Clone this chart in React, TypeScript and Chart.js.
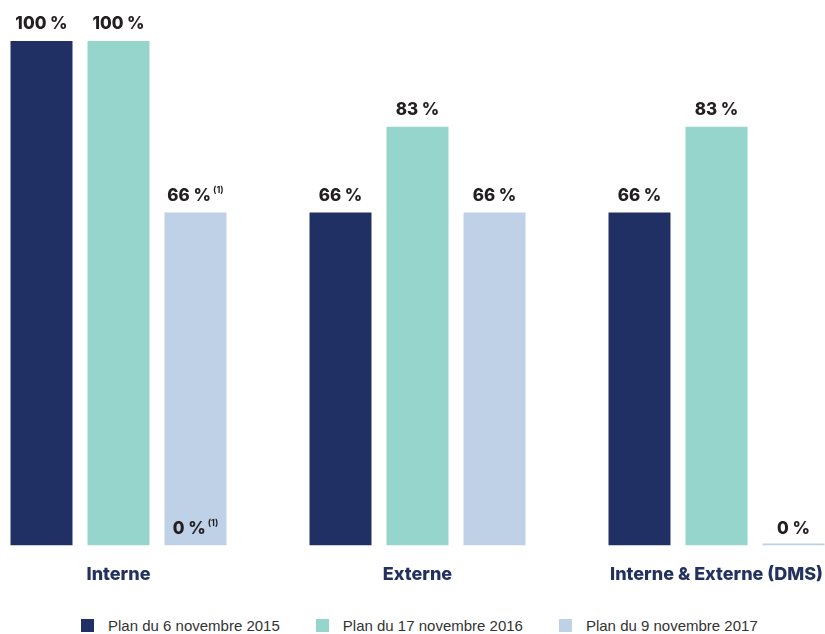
import { useEffect, useRef } from 'react';
import { Chart, registerables } from 'chart.js';

Chart.register(...registerables);

const categories = ['Interne', 'Externe', 'Interne & Externe (DMS)'];
const seriesNames = ['Plan du 6 novembre 2015', 'Plan du 17 novembre 2016', 'Plan du 9 novembre 2017'];
const plan2015 = [100, 66, 66];
const plan2016 = [100, 83, 83];
const plan2017 = [66, 66, 0];
// footnote markers shown next to the value labels
const notes2015 = ['', '', ''];
const notes2016 = ['', '', ''];
const notes2017 = ['(1)', '', ''];
// second value printed inside the 2017 "Interne" bar
const plan2017Alt = [0, null, null];
const notes2017Alt = ['(1)', '', ''];

const PALETTE = {
  navy: '#213064',
  teal: '#96d5cb',
  lightBlue: '#bed1e7',
  labelText: '#231f20',
  axisText: '#22315f',
  legendText: '#333333',
} as const;

const seriesColors = [PALETTE.navy, PALETTE.teal, PALETTE.lightBlue];
const seriesNotes = [notes2015, notes2016, notes2017];

const LABEL_FONT = '800 17px Inter, "Liberation Sans", sans-serif';
const NOTE_FONT = 'bold 9px Inter, "Liberation Sans", sans-serif';

function drawLabel(ctx: CanvasRenderingContext2D, x: number, y: number, text: string, note: string) {
  ctx.font = LABEL_FONT;
  const mainW = ctx.measureText(text).width;
  ctx.font = NOTE_FONT;
  const noteW = note ? ctx.measureText(note).width + 2 : 0;
  const left = x - (mainW + noteW) / 2;
  ctx.fillStyle = PALETTE.labelText;
  ctx.textBaseline = 'middle';
  ctx.textAlign = 'left';
  ctx.font = LABEL_FONT;
  ctx.fillText(text, left, y);
  if (note) {
    ctx.font = NOTE_FONT;
    ctx.fillText(note, left + mainW + 2, y - 5);
  }
}

const valueLabels = {
  id: 'valueLabels',
  afterDatasetsDraw(chart: Chart) {
    const ctx = chart.ctx;
    const yScale = chart.scales.y;
    ctx.save();
    chart.data.datasets.forEach((ds, di) => {
      const meta = chart.getDatasetMeta(di);
      meta.data.forEach((bar: any, i: number) => {
        const v = ds.data[i] as number;
        drawLabel(ctx, bar.x, yScale.getPixelForValue(v) - 17, `${v} %`, seriesNotes[di][i]);
      });
    });
    const altMeta = chart.getDatasetMeta(2);
    plan2017Alt.forEach((v, i) => {
      if (v === null) return;
      const bar: any = altMeta.data[i];
      drawLabel(ctx, bar.x, yScale.getPixelForValue(v) - 17, `${v} %`, notes2017Alt[i]);
    });
    ctx.restore();
  },
};

export default function App() {
  const canvasRef = useRef<HTMLCanvasElement>(null);
  const chartRef = useRef<Chart | null>(null);

  useEffect(() => {
    if (!canvasRef.current) return;
    chartRef.current?.destroy();
    chartRef.current = new Chart(canvasRef.current, {
      type: 'bar',
      data: {
        labels: categories,
        datasets: [plan2015, plan2016, plan2017].map((d, i) => ({
          label: seriesNames[i],
          data: d,
          backgroundColor: seriesColors[i],
          borderWidth: 0,
          minBarLength: i === 2 ? 2 : 0,
          categoryPercentage: 0.7726,
          barPercentage: 0.805,
        })),
      },
      options: {
        animation: false,
        responsive: true,
        maintainAspectRatio: false,
        layout: { padding: { top: 41, bottom: 0, left: 0, right: 0 } },
        plugins: { legend: { display: false }, tooltip: { enabled: false } },
        scales: {
          x: {
            grid: { display: false, drawTicks: false },
            border: { display: false },
            ticks: {
              padding: 18,
              color: PALETTE.axisText,
              font: { family: 'Inter, "Liberation Sans", sans-serif', size: 18, weight: '800' },
            },
          },
          y: { display: false, min: 0, max: 100 },
        },
      },
      plugins: [valueLabels],
    });
    return () => {
      chartRef.current?.destroy();
      chartRef.current = null;
    };
  }, []);

  return (
    <div style={{ position: 'fixed', inset: 0, overflow: 'hidden', background: '#fff' }}>
      <div style={{ position: 'absolute', left: -31, top: 0, width: 897, height: 603 }}>
        <canvas ref={canvasRef} />
      </div>
      <div
        style={{
          position: 'absolute',
          left: 81,
          top: 617,
          display: 'flex',
          gap: 36,
          fontFamily: '"Liberation Sans", Arial, sans-serif',
          fontSize: 15,
          color: PALETTE.legendText,
          lineHeight: '17px',
        }}
      >
        {seriesNames.map((name, i) => (
          <div key={name} style={{ display: 'flex', alignItems: 'center' }}>
            <span style={{ width: 13, height: 13, background: seriesColors[i], marginRight: 14, display: 'inline-block' }} />
            <span>{name}</span>
          </div>
        ))}
      </div>
    </div>
  );
}
